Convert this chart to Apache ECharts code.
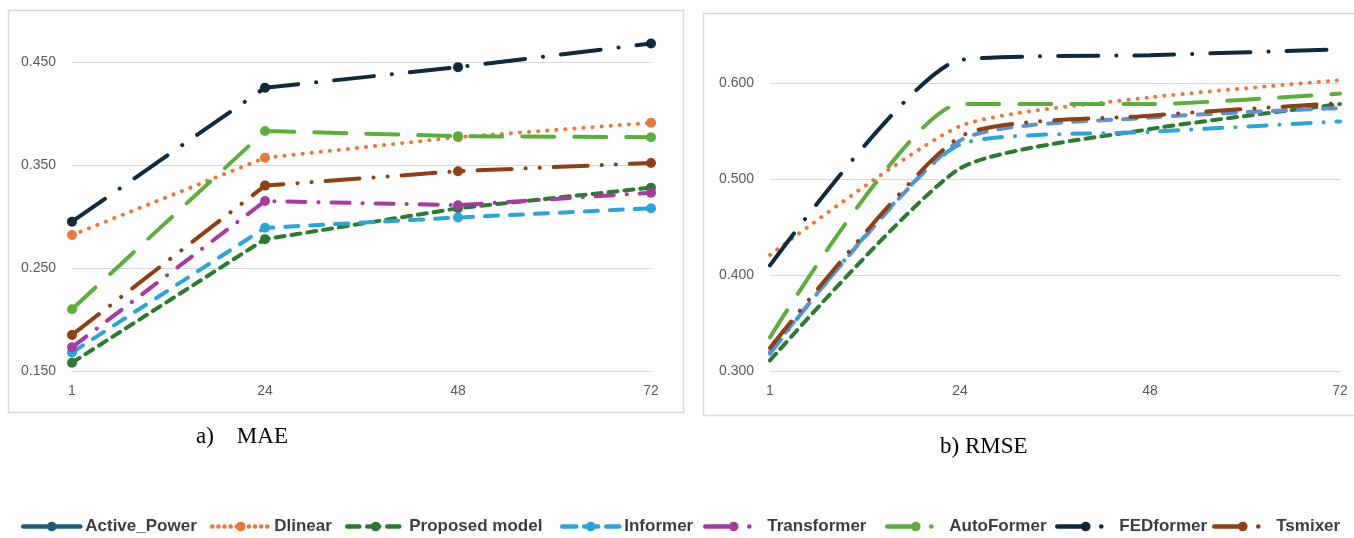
<!DOCTYPE html>
<html>
<head>
<meta charset="utf-8">
<title>MAE / RMSE</title>
<script src="https://cdn.jsdelivr.net/npm/echarts@6/dist/echarts.min.js"></script>
<style>
  html, body { margin: 0; padding: 0; background: #fff; }
  #main { width: 1354px; height: 538px; }
</style>
</head>
<body>
<div id="main"></div>
<script>
// 预测步长
var horizons = ['1', '24', '48', '72'];
var maeTicks = ['0.150', '0.250', '0.350', '0.450'];
var rmseTicks = ['0.300', '0.400', '0.500', '0.600'];

// a) MAE
var maeDlinear     = [0.282, 0.357, 0.377, 0.391];
var maeProposed    = [0.158, 0.278, 0.308, 0.328];
var maeInformer    = [0.168, 0.289, 0.299, 0.308];
var maeTransformer = [0.173, 0.315, 0.311, 0.323];
var maeAutoFormer  = [0.210, 0.383, 0.378, 0.377];
var maeFEDformer   = [0.295, 0.425, 0.445, 0.468];
var maeTsmixer     = [0.185, 0.330, 0.344, 0.352];

// b) RMSE
var rmseDlinear     = [0.421, 0.555, 0.585, 0.603];
var rmseProposed    = [0.311, 0.511, 0.552, 0.578];
var rmseInformer    = [0.318, 0.536, 0.549, 0.560];
var rmseTransformer = [0.320, 0.540, 0.564, 0.574];
var rmseAutoFormer  = [0.335, 0.578, 0.578, 0.589];
var rmseFEDformer   = [0.410, 0.624, 0.629, 0.635];
var rmseTsmixer     = [0.324, 0.544, 0.566, 0.579];

var legendNames = ['Active_Power', 'Dlinear', 'Proposed model', 'Informer', 'Transformer', 'AutoFormer', 'FEDformer', 'Tsmixer'];

var C = {
	active: '#1f5c7c',
	dlinear: '#e5783b',
	proposed: '#2b7a2f',
	informer: '#2ba4da',
	transformer: '#a53ba1',
	auto: '#5cae3c',
	fed: '#10293b',
	tsmixer: '#8f3f14',
	steel: '#5f90cf'
};

// 线型
var dash = {
	dot: [0.1, 9],
	shortDash: [9, 7],
	dash: [13, 12],
	longDash: [32, 20],
	dashDot: [40, 18, 0.1, 18],
	midDashDot: [18, 13, 0.1, 13],
	dashDotDot: [34, 14, 0.1, 14, 0.1, 14]
};

var axisFont = 'Liberation Sans';

function lineSeries(name, data, color, type, gridIdx, right) {
	return {
		name: name,
		type: 'line',
		xAxisIndex: gridIdx,
		yAxisIndex: gridIdx,
		data: data,
		smooth: right ? 0.2 : false,
		symbol: right ? 'none' : 'circle',
		symbolSize: 10,
		showSymbol: !right,
		itemStyle: { color: color },
		lineStyle: { color: color, width: 4, type: type, cap: 'round' },
		emphasis: { disabled: true },
		z: 3
	};
}

function yAxis(gridIdx, min, max) {
	return {
		type: 'value',
		gridIndex: gridIdx,
		min: min,
		max: max,
		interval: 0.1,
		axisLine: { show: false },
		axisTick: { show: false },
		axisLabel: {
			color: '#595959',
			fontFamily: axisFont,
			fontSize: 14,
			margin: 16,
			showMaxLabel: false,
			formatter: function (v) { return v.toFixed(3); }
		},
		splitLine: { lineStyle: { color: '#d9d9d9', width: 1 }, showMaxLine: false }
	};
}

function xAxis(gridIdx) {
	return {
		type: 'category',
		gridIndex: gridIdx,
		data: horizons,
		boundaryGap: false,
		axisLine: { lineStyle: { color: '#d9d9d9' } },
		axisTick: { show: false },
		axisLabel: { color: '#595959', fontFamily: axisFont, fontSize: 14, margin: 13 }
	};
}

// 图例逐项摆放，图标线型单独设置
function legends() {
	var lefts = [16, 205, 340, 555, 698, 880, 1050, 1207];
	var icons = ['solid', [0.1, 6], [12, 8], [14, 8], [28, 16, 0.1, 30], [28, 16, 0.1, 30], [28, 16, 0.1, 30], [28, 16, 0.1, 30]];
	var arr = [];
	for (var i = 0; i < legendNames.length; i++) {
		arr.push({
			data: [legendNames[i]],
			left: lefts[i],
			top: 513,
			itemWidth: 57,
			itemHeight: 12,
			itemGap: 0,
			lineStyle: { type: icons[i], width: 4.5, cap: 'round' },
			textStyle: { fontFamily: axisFont, fontSize: 17, fontWeight: 'bold', color: '#3d3d3d' }
		});
	}
	return arr;
}

function e_chart() {
	var myChart = echarts.init(document.getElementById('main'));
	var option = {
		animation: false,
		backgroundColor: '#fff',
		grid: [
			{ left: 72, right: 703, top: 10.5, bottom: 167 },
			{ left: 770, right: 14, top: 15.8, bottom: 167 }
		],
		legend: legends(),
		xAxis: [xAxis(0), xAxis(1)],
		yAxis: [yAxis(0, 0.15, 0.5), yAxis(1, 0.3, 0.67)],
		series: [
			// 左图 MAE
			{
				name: 'Active_Power', type: 'line', xAxisIndex: 0, yAxisIndex: 0, data: [],
				symbol: 'circle', symbolSize: 10,
				itemStyle: { color: C.active }, lineStyle: { color: C.active, width: 4 }
			},
			lineSeries('Dlinear', maeDlinear, C.dlinear, dash.dot, 0),
			lineSeries('Proposed model', maeProposed, C.proposed, dash.shortDash, 0),
			lineSeries('Informer', maeInformer, C.informer, dash.dash, 0),
			lineSeries('Transformer', maeTransformer, C.transformer, dash.midDashDot, 0),
			lineSeries('AutoFormer', maeAutoFormer, C.auto, dash.longDash, 0),
			lineSeries('FEDformer', maeFEDformer, C.fed, dash.dashDot, 0),
			lineSeries('Tsmixer', maeTsmixer, C.tsmixer, dash.dashDotDot, 0),
			// 右图 RMSE
			lineSeries('Dlinear', rmseDlinear, C.dlinear, dash.dot, 1, true),
			lineSeries('Proposed model', rmseProposed, C.proposed, dash.shortDash, 1, true),
			lineSeries('Informer', rmseInformer, C.informer, dash.midDashDot, 1, true),
			lineSeries('Transformer', rmseTransformer, C.steel, dash.dash, 1, true),
			lineSeries('AutoFormer', rmseAutoFormer, C.auto, dash.longDash, 1, true),
			lineSeries('FEDformer', rmseFEDformer, C.fed, dash.dashDot, 1, true),
			lineSeries('Tsmixer', rmseTsmixer, C.tsmixer, dash.dashDotDot, 1, true)
		],
		graphic: [
			// 图框
			{ type: 'rect', shape: { x: 8.5, y: 10.5, width: 675, height: 402 }, style: { fill: 'none', stroke: '#d9d9d9', lineWidth: 1.5 }, silent: true },
			{ type: 'rect', shape: { x: 703.5, y: 13.5, width: 660, height: 402 }, style: { fill: 'none', stroke: '#d9d9d9', lineWidth: 1.5 }, silent: true },
			// 子图标题
			{ type: 'text', left: 196, top: 425, style: { text: 'a)    MAE', font: '23px "Liberation Serif"', fill: '#000' } },
			{ type: 'text', left: 940, top: 435, style: { text: 'b) RMSE', font: '23px "Liberation Serif"', fill: '#000' } }
		]
	};
	myChart.setOption(option);
}

e_chart();
</script>
</body>
</html>
